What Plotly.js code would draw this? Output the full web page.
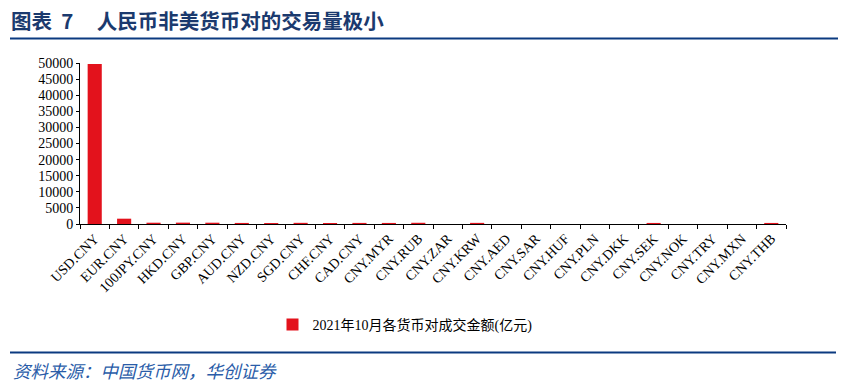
<!DOCTYPE html>
<html>
<head>
<meta charset="utf-8">
<script src="https://cdn.plot.ly/plotly-3.0.1.min.js"></script>
<style>html,body{margin:0;padding:0;background:#fff;}#chart{width:848px;height:390px;}</style>
</head>
<body>
<div id="chart"></div>
<script>
var categories = ["USD.CNY","EUR.CNY","100JPY.CNY","HKD.CNY","GBP.CNY","AUD.CNY","NZD.CNY","SGD.CNY","CHF.CNY","CAD.CNY","CNY.MYR","CNY.RUB","CNY.ZAR","CNY.KRW","CNY.AED","CNY.SAR","CNY.HUF","CNY.PLN","CNY.DKK","CNY.SEK","CNY.NOK","CNY.TRY","CNY.MXN","CNY.THB"];
var volumes = [49700, 1650, 400, 420, 400, 330, 300, 360, 320, 340, 330, 380, 0, 350, 0, 0, 0, 0, 0, 330, 0, 0, 0, 330];
var seriesName = "2021年10月各货币对成交金额(亿元)";
var yTickVals = [0,5000,10000,15000,20000,25000,30000,35000,40000,45000,50000];
var titleText = "图表&nbsp;&nbsp;7&nbsp;&nbsp;&nbsp;&nbsp;&nbsp;人民币非美货币对的交易量极小";
var sourceText = "资料来源：中国货币网，华创证券";

var W = 848, H = 390;
var M = {l: 80, r: 62, t: 63, b: 166};
function px2x(p){ return (p - M.l) / (W - M.l - M.r); }
function py2y(p){ return 1 - (p - M.t) / (H - M.t - M.b); }

var serif = '"Liberation Serif", "Times New Roman", "Noto Sans CJK SC", serif';
var navy = '#0B3A80';

var trace = {
  type: 'bar',
  x: categories,
  y: volumes,
  name: seriesName,
  marker: {color: '#E3121C', line: {width: 0}},
  showlegend: true
};

var layout = {
  width: W, height: H,
  margin: M,
  paper_bgcolor: '#fff', plot_bgcolor: '#fff',
  bargap: 0.52,
  title: {
    text: titleText,
    x: 11 / W, xref: 'container', xanchor: 'left',
    y: 1 - 22 / H, yref: 'container', yanchor: 'middle',
    font: {family: '"Noto Sans CJK SC", sans-serif', size: 20.5, color: '#1B3A6E', weight: 'bold'}
  },
  xaxis: {
    type: 'category',
    tickangle: -45,
    tickson: 'boundaries',
    ticks: 'outside', ticklen: 4, tickcolor: '#000', tickwidth: 1,
    showline: true, linecolor: '#000', linewidth: 1,
    showgrid: false, zeroline: false,
    tickfont: {family: serif, size: 14, color: '#000'}
  },
  yaxis: {
    range: [0, 50000],
    tickvals: yTickVals,
    ticktext: yTickVals.map(String),
    ticks: 'outside', ticklen: 3, tickcolor: '#000', tickwidth: 1,
    showline: true, linecolor: '#000', linewidth: 1,
    showgrid: false, zeroline: false,
    tickfont: {family: serif, size: 14, color: '#000'}
  },
  showlegend: true,
  legend: {
    orientation: 'h',
    x: px2x(405), xanchor: 'center',
    y: py2y(325), yanchor: 'middle',
    font: {family: serif, size: 14, color: '#000'},
    itemwidth: 30,
    bgcolor: 'rgba(0,0,0,0)'
  },
  shapes: [
    {type: 'line', xref: 'paper', yref: 'paper', x0: px2x(10), x1: px2x(838), y0: py2y(38.5), y1: py2y(38.5), line: {color: navy, width: 2.2}},
    {type: 'line', xref: 'paper', yref: 'paper', x0: px2x(10), x1: px2x(836), y0: py2y(352.5), y1: py2y(352.5), line: {color: navy, width: 2.2}}
  ],
  annotations: [
    {text: '<i>' + sourceText + '</i>', xref: 'paper', yref: 'paper', x: px2x(11), y: py2y(370), xanchor: 'left', yanchor: 'middle', showarrow: false,
     font: {family: '"Noto Sans CJK SC", sans-serif', size: 17.5, color: '#2A5CA8'}}
  ]
};

Plotly.newPlot('chart', [trace], layout, {staticPlot: true, displayModeBar: false});
</script>
</body>
</html>
